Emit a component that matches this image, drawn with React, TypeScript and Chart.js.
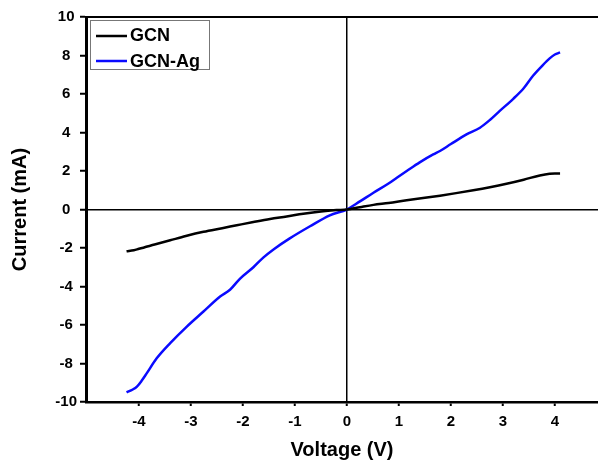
import React, { useEffect, useRef } from "react";
import { Chart, registerables } from "chart.js";

Chart.register(...registerables);

// GCN (black) I–V curve
const VOLTAGE_GCN = [-4.24, -4.1, -4.0, -3.7, -3.4, -3.1, -2.76, -2.4, -2.12, -1.8, -1.48, -1.16, -0.84, -0.5, -0.2, 0, 0.25, 0.51, 0.8, 1.15, 1.5, 1.79, 2.1, 2.43, 2.75, 3.07, 3.4, 3.71, 3.9, 4.0, 4.1];
const CURRENT_GCN = [-2.17, -2.12, -2.04, -1.82, -1.6, -1.38, -1.16, -0.97, -0.82, -0.65, -0.49, -0.36, -0.22, -0.1, -0.03, 0, 0.12, 0.24, 0.34, 0.48, 0.61, 0.72, 0.85, 1.0, 1.16, 1.34, 1.55, 1.77, 1.86, 1.875, 1.875];

// GCN-Ag (blue) I–V curve
const VOLTAGE_AG = [-4.24, -4.12, -4.04, -3.95, -3.85, -3.66, -3.4, -3.08, -2.76, -2.44, -2.25, -2.06, -1.8, -1.61, -1.4, -1.1, -0.71, -0.33, 0, 0.25, 0.51, 0.8, 0.96, 1.15, 1.4, 1.66, 1.79, 2.0, 2.3, 2.56, 2.75, 2.94, 3.2, 3.4, 3.58, 3.75, 3.9, 4.0, 4.1];
const CURRENT_AG = [-9.5, -9.35, -9.2, -8.9, -8.5, -7.73, -6.94, -6.08, -5.3, -4.52, -4.17, -3.6, -3.0, -2.5, -2.05, -1.5, -0.87, -0.3, 0, 0.42, 0.87, 1.35, 1.65, 2.0, 2.45, 2.86, 3.04, 3.4, 3.9, 4.25, 4.65, 5.12, 5.75, 6.3, 6.95, 7.45, 7.85, 8.05, 8.16];

const SERIES_LABELS = ["GCN", "GCN-Ag"];
const SERIES_COLORS = ["#000000", "#0a0aff"];
const X_TICKS = [-4, -3, -2, -1, 0, 1, 2, 3, 4];
const Y_TICKS = [-10, -8, -6, -4, -2, 0, 2, 4, 6, 8, 10];
const X_TITLE = "Voltage (V)";
const Y_TITLE = "Current (mA)";

const FONT = "'Liberation Sans', Arial, sans-serif";

const framePlugin = {
  id: "framePlugin",
  afterDraw(chart: any) {
    const { ctx, chartArea: a } = chart;
    ctx.save();
    // top border line
    ctx.strokeStyle = "#000";
    ctx.lineWidth = 2;
    ctx.beginPath();
    ctx.moveTo(a.left, a.top);
    ctx.lineTo(a.right, a.top);
    ctx.stroke();

    // legend box
    const bx = 90.5, by = 20.5, bw = 119, bh = 49;
    ctx.fillStyle = "#fff";
    ctx.fillRect(bx, by, bw, bh);
    ctx.strokeStyle = "#777";
    ctx.lineWidth = 1;
    ctx.strokeRect(bx, by, bw, bh);

    chart.data.datasets.forEach((ds: any, i: number) => {
      const ly = 36 + i * 25;
      ctx.strokeStyle = ds.borderColor;
      ctx.lineWidth = 2.5;
      ctx.beginPath();
      ctx.moveTo(96, ly);
      ctx.lineTo(127, ly);
      ctx.stroke();
      ctx.fillStyle = "#000";
      ctx.font = `bold 18px ${FONT}`;
      ctx.textBaseline = "alphabetic";
      ctx.textAlign = "left";
      ctx.fillText(ds.label, 130, 41 + i * 25.5);
    });
    ctx.restore();
  },
};

export default function App() {
  const ref = useRef<HTMLCanvasElement | null>(null);

  useEffect(() => {
    document.body.style.margin = "0";
    const canvas = ref.current;
    if (!canvas) return;
    const chart = new Chart(canvas, {
      type: "line",
      data: {
        datasets: [
          {
            label: SERIES_LABELS[0],
            data: VOLTAGE_GCN.map((v, i) => ({ x: v, y: CURRENT_GCN[i] })),
            borderColor: SERIES_COLORS[0],
            borderWidth: 2.5,
            pointRadius: 0,
            fill: false,
            cubicInterpolationMode: "monotone",
          },
          {
            label: SERIES_LABELS[1],
            data: VOLTAGE_AG.map((v, i) => ({ x: v, y: CURRENT_AG[i] })),
            borderColor: SERIES_COLORS[1],
            borderWidth: 2.5,
            pointRadius: 0,
            fill: false,
            cubicInterpolationMode: "monotone",
          },
        ],
      },
      options: {
        responsive: false,
        animation: false,
        layout: { padding: { top: 17, left: 0, right: 0, bottom: 0 } },
        plugins: {
          legend: { display: false },
          tooltip: { enabled: false },
        },
        scales: {
          x: {
            type: "linear",
            min: -5.02,
            max: 4.83,
            afterBuildTicks: (scale: any) => {
              scale.ticks = X_TICKS.map((value) => ({ value }));
            },
            afterFit: (scale: any) => {
              scale.height = 60;
            },
            grid: {
              color: (c: any) => (c.tick && c.tick.value === 0 ? "#000" : "rgba(0,0,0,0)"),
              lineWidth: 1.5,
              tickColor: "#000",
              tickWidth: 2,
              tickLength: 4,
              drawOnChartArea: true,
            },
            border: { color: "#000", width: 2.5 },
            ticks: {
              color: "#000",
              font: { family: FONT, size: 15, weight: "bold" },
              padding: 7,
              maxRotation: 0,
              autoSkip: false,
            },
            title: {
              display: true,
              text: X_TITLE,
              color: "#000",
              font: { family: FONT, size: 20, weight: "bold" },
              padding: { top: 0, bottom: 0 },
            },
          },
          y: {
            type: "linear",
            min: -10,
            max: 10,
            afterBuildTicks: (scale: any) => {
              scale.ticks = Y_TICKS.map((value) => ({ value }));
            },
            afterFit: (scale: any) => {
              scale.width = 86;
            },
            grid: {
              color: (c: any) => (c.tick && c.tick.value === 0 ? "#000" : "rgba(0,0,0,0)"),
              lineWidth: 1.5,
              tickColor: "#000",
              tickWidth: 2,
              tickLength: 6,
              drawOnChartArea: true,
            },
            border: { color: "#000", width: 3 },
            ticks: {
              color: "#000",
              font: { family: FONT, size: 15, weight: "bold" },
              padding: 3,
              crossAlign: "center",
              autoSkip: false,
            },
            title: {
              display: true,
              text: Y_TITLE,
              color: "#000",
              font: { family: FONT, size: 20, weight: "bold" },
              padding: { top: 8, bottom: 0 },
            },
          },
        },
      },
      plugins: [framePlugin],
    } as any);
    return () => chart.destroy();
  }, []);

  return (
    <div style={{ width: 598, height: 462, background: "#fff" }}>
      <canvas ref={ref} width={598} height={462} style={{ display: "block" }} />
    </div>
  );
}
